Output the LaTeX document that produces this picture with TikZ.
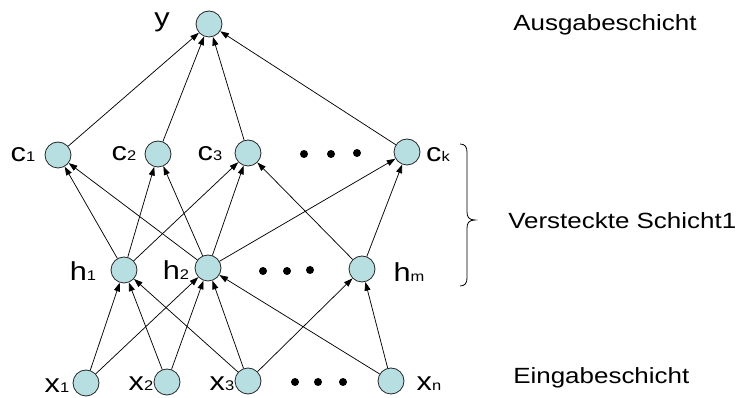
\documentclass[tikz,border=0pt]{standalone}
\usepackage{fontspec}
\setmainfont[FakeStretch=1.18]{Liberation Sans}
\usetikzlibrary{arrows.meta}
\definecolor{nodefill}{RGB}{183,222,224}
\newcommand{\nlab}[2]{{\fontsize{19.5pt}{20pt}\selectfont #1}{\fontsize{10.5pt}{10.5pt}\selectfont #2}}
\begin{document}
\begin{tikzpicture}[x=0.75pt,y=-0.75pt,
  neuron/.style={circle,draw=black!85,fill=nodefill,line width=0.6pt,minimum size=19.5pt,inner sep=0pt},
  conn/.style={-{Triangle[length=6.5pt,width=4.5pt]},line width=0.55pt},
  lab/.style={anchor=base,inner sep=0pt},
  dotm/.style={circle,fill=black,minimum size=6pt,inner sep=0pt},
  layer/.style={anchor=base west,inner sep=0pt,font=\fontsize{16.5pt}{18pt}\selectfont}]
\useasboundingbox (0,0) rectangle (742,398);
% neurons
\node[neuron] (y)  at (209,24) {};
\node[neuron] (c1) at (58,155) {};
\node[neuron] (c2) at (158,154) {};
\node[neuron] (c3) at (248,153) {};
\node[neuron] (ck) at (407,152) {};
\node[neuron] (h1) at (124,270) {};
\node[neuron] (h2) at (208,268) {};
\node[neuron] (hm) at (362,269) {};
\node[neuron] (x1) at (86,383) {};
\node[neuron] (x2) at (167,382) {};
\node[neuron] (x3) at (248,381) {};
\node[neuron] (xn) at (391,381) {};
% labels
\node[lab] (ly)  at (162,27) {\fontsize{19.5pt}{20pt}\selectfont y};
\node[lab] (lc1) at (23,162) {\nlab{c}{1}};
\node[lab] (lc2) at (124,161) {\nlab{c}{2}};
\node[lab] (lc3) at (210,161) {\nlab{c}{3}};
\node[lab] (lck) at (438,162) {\nlab{c}{k}};
\node[lab] (lh1) at (83,281) {\nlab{h}{1}};
\node[lab] (lh2) at (176,280) {\nlab{h}{2}};
\node[lab] (lhm) at (409,282) {\nlab{h}{m}};
\node[lab] (lx1) at (57,393) {\nlab{x}{1}};
\node[lab] (lx2) at (141,391) {\nlab{x}{2}};
\node[lab] (lx3) at (222,391) {\nlab{x}{3}};
\node[lab] (lxn) at (429,391) {\nlab{x}{n}};
% dots
\node[dotm] (dc1) at (304,154) {};
\node[dotm] (dc2) at (331,154) {};
\node[dotm] (dc3) at (357,153) {};
\node[dotm] (dh1) at (263,271) {};
\node[dotm] (dh2) at (287,271) {};
\node[dotm] (dh3) at (310,270) {};
\node[dotm] (dx1) at (295,382) {};
\node[dotm] (dx2) at (318,382) {};
\node[dotm] (dx3) at (343,382) {};
% layer texts
\node[layer] (tout) at (513,31) {Ausgabeschicht};
\node[layer] (thid) at (508,229) {Versteckte Schicht1};
\node[layer] (tin)  at (513,384) {Eingabeschicht};
% brace
\draw[line width=0.6pt] (460,144) .. controls (465,144) and (467,147) .. (467,152)
  -- (467,212) .. controls (467,217) and (469,220) .. (475,220)
  .. controls (469,220) and (467,223) .. (467,228)
  -- (467,278) .. controls (467,283) and (465,286) .. (460,286);
% connections
\foreach \s in {c1,c2,c3,ck} \draw[conn] (\s) -- (y);
\foreach \t in {c1,c2,c3} \draw[conn] (h1) -- (\t);
\foreach \t in {c1,c2,c3,ck} \draw[conn] (h2) -- (\t);
\foreach \t in {c3,ck} \draw[conn] (hm) -- (\t);
\foreach \t in {h1,h2} \draw[conn] (x1) -- (\t);
\foreach \t in {h1,h2} \draw[conn] (x2) -- (\t);
\foreach \t in {h1,h2,hm} \draw[conn] (x3) -- (\t);
\foreach \t in {h2,hm} \draw[conn] (xn) -- (\t);
\end{tikzpicture}
\end{document}
